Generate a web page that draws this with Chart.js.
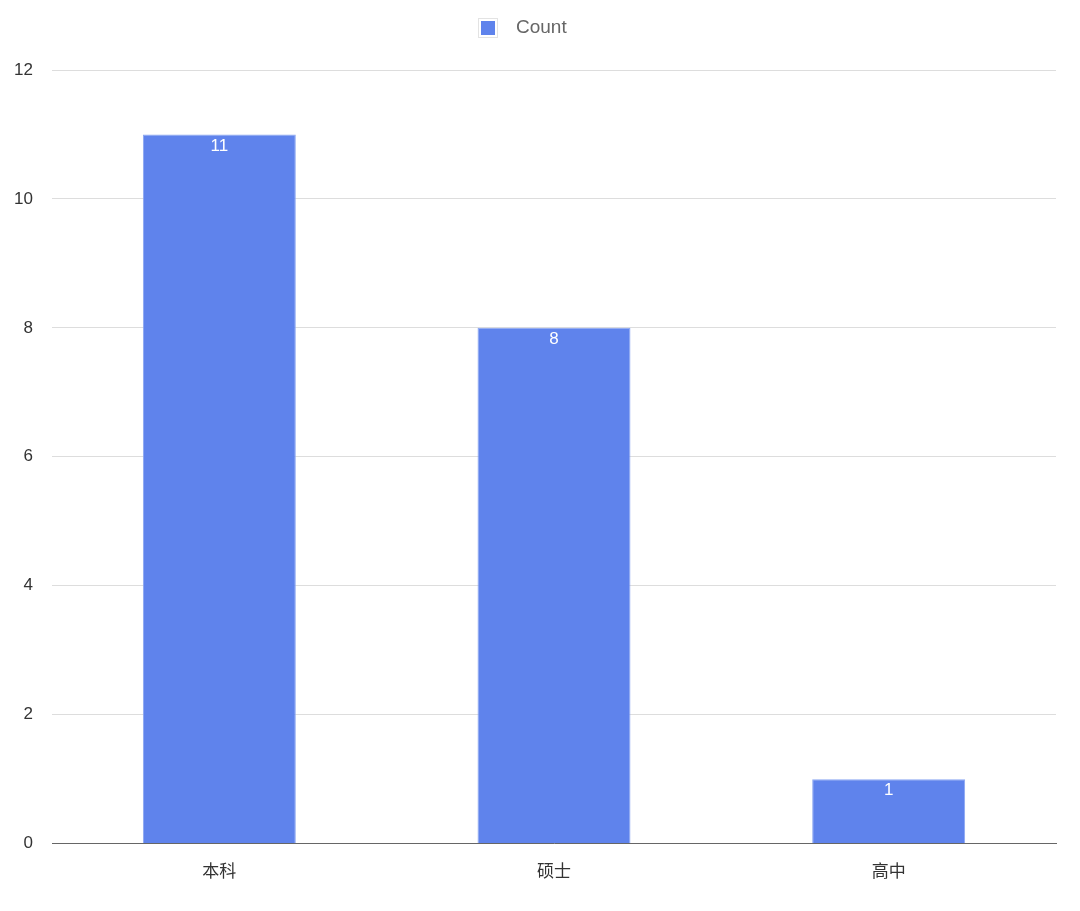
<!DOCTYPE html>
<html><head><meta charset="utf-8">
<script src="https://cdn.jsdelivr.net/npm/chart.js@4/dist/chart.umd.min.js"></script>
<style>html,body{margin:0;padding:0;background:#fff;}#wrap{width:1080px;height:911px;}</style>
</head><body><div id="wrap"><canvas id="c"></canvas></div>
<script>
const categories = ['本科', '硕士', '高中'];
const counts = [11, 8, 1];
const seriesName = 'Count';
const yTicks = [0, 2, 4, 6, 8, 10, 12];

const NUMFONT = "'Liberation Sans', 'Noto Sans', sans-serif";
const CJKFONT = "'Noto Sans CJK SC', 'Noto Sans', sans-serif";
const BAR = '#5f83ec';

const labelPlugin = {
  id: 'barLabels',
  afterDatasetsDraw(chart) {
    const ctx = chart.ctx;
    const meta = chart.getDatasetMeta(0);
    ctx.save();
    ctx.fillStyle = '#ffffff';
    ctx.font = "17px " + NUMFONT;
    ctx.textAlign = 'center';
    ctx.textBaseline = 'top';
    meta.data.forEach((bar, i) => {
      ctx.fillText(String(counts[i]), bar.x, bar.y + 3);
    });
    ctx.restore();
  }
};

const legendPlugin = {
  id: 'customLegend',
  afterDraw(chart) {
    const ctx = chart.ctx;
    ctx.save();
    ctx.font = "19px " + NUMFONT;
    const x0 = chart.width / 2 - 62;
    const cy = 28;
    ctx.fillStyle = '#ffffff';
    ctx.strokeStyle = '#e3e3e3';
    ctx.lineWidth = 1;
    ctx.fillRect(x0, cy - 10, 20, 20);
    ctx.strokeRect(x0 + 0.5, cy - 9.5, 19, 19);
    ctx.fillStyle = BAR;
    ctx.fillRect(x0 + 3, cy - 7, 14, 14);
    ctx.fillStyle = '#666';
    ctx.textAlign = 'left';
    ctx.textBaseline = 'middle';
    ctx.fillText(seriesName, x0 + 38, cy);
    ctx.restore();
  }
};

new Chart(document.getElementById('c'), {
  type: 'bar',
  data: {
    labels: categories,
    datasets: [{
      label: seriesName,
      data: counts,
      backgroundColor: BAR,
      borderColor: '#8aa6f2',
      borderWidth: 1,
      barPercentage: 0.457,
      categoryPercentage: 1
    }]
  },
  options: {
    responsive: true,
    maintainAspectRatio: false,
    animation: false,
    layout: { padding: { left: 0, right: 24, top: 70, bottom: 13 } },
    plugins: {
      legend: { display: false },
      tooltip: { enabled: false }
    },
    scales: {
      x: {
        grid: { display: false, drawTicks: false },
        border: { display: true, color: '#666', width: 1 },
        ticks: { color: '#333', font: { size: 17, family: CJKFONT }, padding: 17 }
      },
      y: {
        min: 0, max: 12,
        afterBuildTicks(axis) { axis.ticks = yTicks.map(v => ({ value: v })); },
        afterFit(axis) { axis.width = 52; },
        grid: { color: '#dddddd', drawTicks: false },
        border: { display: false },
        ticks: { color: '#333', font: { size: 17, family: NUMFONT }, padding: 19 }
      }
    }
  },
  plugins: [labelPlugin, legendPlugin]
});
</script></body></html>
